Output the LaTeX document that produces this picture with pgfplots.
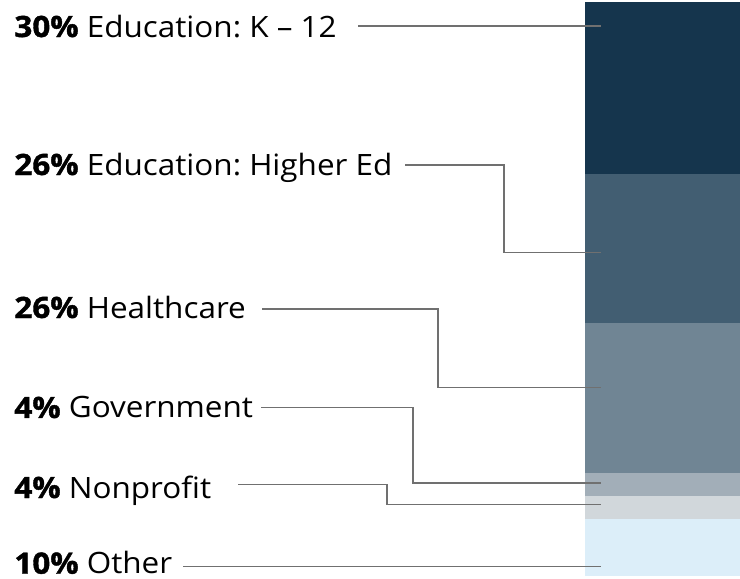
\documentclass[border=0pt]{standalone}
\usepackage{pgfplots}
\pgfplotsset{compat=1.18}
\usepackage{fontspec}
\setmainfont[FakeStretch=1.07, BoldFeatures={FakeBold=1.3}]{Open Sans}
\frenchspacing
\definecolor{c1}{HTML}{15354D}
\definecolor{c2}{HTML}{425E72}
\definecolor{c3}{HTML}{708594}
\definecolor{c4}{HTML}{A2AEB8}
\definecolor{c5}{HTML}{D1D7DB}
\definecolor{c6}{HTML}{DCEEF9}
\definecolor{conn}{HTML}{707070}
\newcommand\labfont{\fontsize{14.7}{17}\selectfont}
\tikzset{lbl/.style={font=\labfont, text=black, inner sep=0pt, anchor=base west},
  cn/.style={draw=conn, line width=0.65pt}}
\begin{document}
\begin{tikzpicture}
\begin{axis}[
  scale only axis, width=370pt, height=289.5pt,
  xmin=0, xmax=740, ymin=-0.35, ymax=100.52, y dir=reverse,
  axis lines=none, ybar stacked, bar width=155, clip=false,
]
\addplot[fill=c1, draw=none] coordinates {(662.5,30)};
\addplot[fill=c2, draw=none] coordinates {(662.5,26)};
\addplot[fill=c3, draw=none] coordinates {(662.5,26)};
\addplot[fill=c4, draw=none] coordinates {(662.5,4)};
\addplot[fill=c5, draw=none] coordinates {(662.5,4)};
\addplot[fill=c6, draw=none] coordinates {(662.5,10)};
\draw[draw=none] (axis cs:0,-0.35) rectangle (axis cs:740,100.52);
% connector anchor points
\coordinate (a0) at (axis cs:358,4.18);  \coordinate (a1) at (axis cs:601,4.18);
\coordinate (b0) at (axis cs:405,28.4);  \coordinate (b1) at (axis cs:504,28.4);
\coordinate (b2) at (axis cs:504,43.7);  \coordinate (b3) at (axis cs:601,43.7);
\coordinate (c0) at (axis cs:262,53.5);  \coordinate (c1) at (axis cs:438,53.5);
\coordinate (c2) at (axis cs:438,67.2);  \coordinate (c3) at (axis cs:601,67.2);
\coordinate (d0) at (axis cs:261,70.7);  \coordinate (d1) at (axis cs:413,70.7);
\coordinate (d2) at (axis cs:413,83.8);  \coordinate (d3) at (axis cs:601,83.8);
\coordinate (e0) at (axis cs:238,84.0);  \coordinate (e1) at (axis cs:387,84.0);
\coordinate (e2) at (axis cs:387,87.6);  \coordinate (e3) at (axis cs:601,87.6);
\coordinate (f0) at (axis cs:183,98.4);  \coordinate (f1) at (axis cs:601,98.4);
\node[lbl] at (axis cs:14,6.10) {\textbf{30\%} Education: K – 12};
\node[lbl] at (axis cs:14,30.14) {\textbf{26\%} Education: Higher Ed};
\node[lbl] at (axis cs:14,55.05) {\textbf{26\%} Healthcare};
\node[lbl] at (axis cs:14,72.47) {\textbf{4\%} Government};
\node[lbl] at (axis cs:14,86.41) {\textbf{4\%} Nonprofit};
\node[lbl] at (axis cs:14,99.6) {\textbf{10\%} Other};
\end{axis}
\draw[cn] (a0) -- (a1);
\draw[cn] (b0) -- (b1) -- (b2) -- (b3);
\draw[cn] (c0) -- (c1) -- (c2) -- (c3);
\draw[cn] (d0) -- (d1) -- (d2) -- (d3);
\draw[cn] (e0) -- (e1) -- (e2) -- (e3);
\draw[cn] (f0) -- (f1);
\end{tikzpicture}
\end{document}
